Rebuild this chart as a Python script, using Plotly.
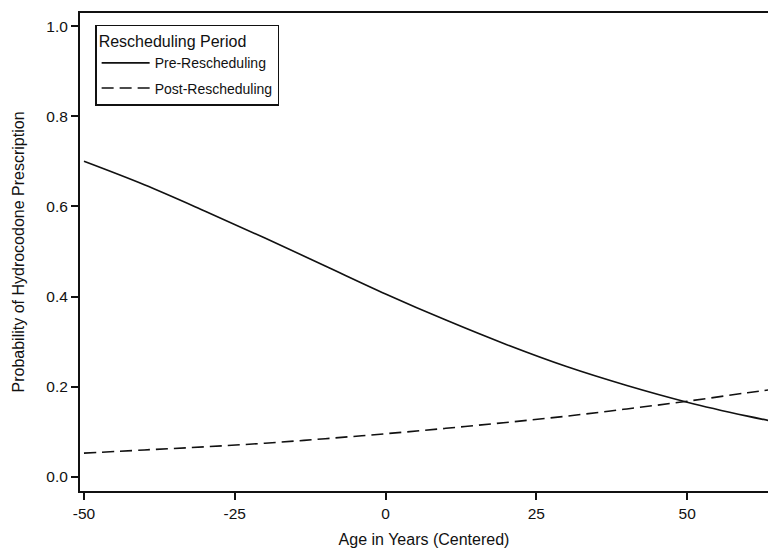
import plotly.graph_objects as go

# Data
age = [-50, -40, -30, -20, -10, 0, 10, 20, 30, 40, 50, 60, 64]
pre_rescheduling = [0.700, 0.648, 0.590, 0.530, 0.468, 0.406, 0.348, 0.294, 0.245, 0.203, 0.166, 0.135, 0.124]
post_rescheduling = [0.053, 0.060, 0.067, 0.075, 0.085, 0.096, 0.108, 0.121, 0.135, 0.151, 0.168, 0.187, 0.194]
x_ticks = [-50, -25, 0, 25, 50]
x_tick_labels = ["-50", "-25", "0", "25", "50"]
y_ticks = [0.0, 0.2, 0.4, 0.6, 0.8, 1.0]
y_tick_labels = ["0.0", "0.2", "0.4", "0.6", "0.8", "1.0"]

FONT = "Liberation Sans, Arial, sans-serif"
INK = "#111111"

fig = go.Figure()
fig.add_trace(go.Scatter(
    x=age, y=pre_rescheduling, mode="lines", name="Pre-Rescheduling",
    legendgroup="pre",
    line=dict(color=INK, width=1.6, shape="spline"),
))
fig.add_trace(go.Scatter(
    x=age, y=post_rescheduling, mode="lines", name="Post-Rescheduling",
    legendgroup="post",
    line=dict(color=INK, width=1.6, dash="12px,6px", shape="spline"),
))

fig.update_layout(
    width=768, height=548,
    margin=dict(l=80, r=0, t=13, b=57),
    paper_bgcolor="white", plot_bgcolor="white",
    font=dict(family=FONT, color=INK, size=15),
    showlegend=True,
    legend=dict(
        x=0.022, y=0.975, xanchor="left", yanchor="top",
        bgcolor="white", bordercolor=INK, borderwidth=1.5,
        title=dict(text="Rescheduling Period", font=dict(size=16, family=FONT, color=INK)),
        font=dict(size=14, family=FONT, color=INK),
        itemwidth=48, traceorder="grouped", tracegroupgap=4,
    ),
    xaxis=dict(
        range=[-50.66, 63.4],
        tickmode="array", tickvals=x_ticks, ticktext=x_tick_labels,
        ticks="outside", ticklen=7, tickwidth=1.5, tickcolor=INK,
        showline=True, linecolor=INK, linewidth=2, mirror=True,
        showgrid=False, zeroline=False,
        tickfont=dict(size=15.5, family=FONT, color=INK),
        title=dict(text="Age in Years (Centered)", font=dict(size=16, family=FONT, color=INK), standoff=15),
        automargin=False,
    ),
    yaxis=dict(
        range=[-0.031, 1.029],
        tickmode="array", tickvals=y_ticks, ticktext=y_tick_labels,
        ticks="outside", ticklen=7, tickwidth=1.5, tickcolor=INK,
        showline=True, linecolor=INK, linewidth=2, mirror=False,
        showgrid=False, zeroline=False,
        tickfont=dict(size=15.5, family=FONT, color=INK),
        title=dict(text="Probability of Hydrocodone Prescription", font=dict(size=16, family=FONT, color=INK), standoff=18),
        automargin=False,
    ),
)

fig.write_html("out.html")
